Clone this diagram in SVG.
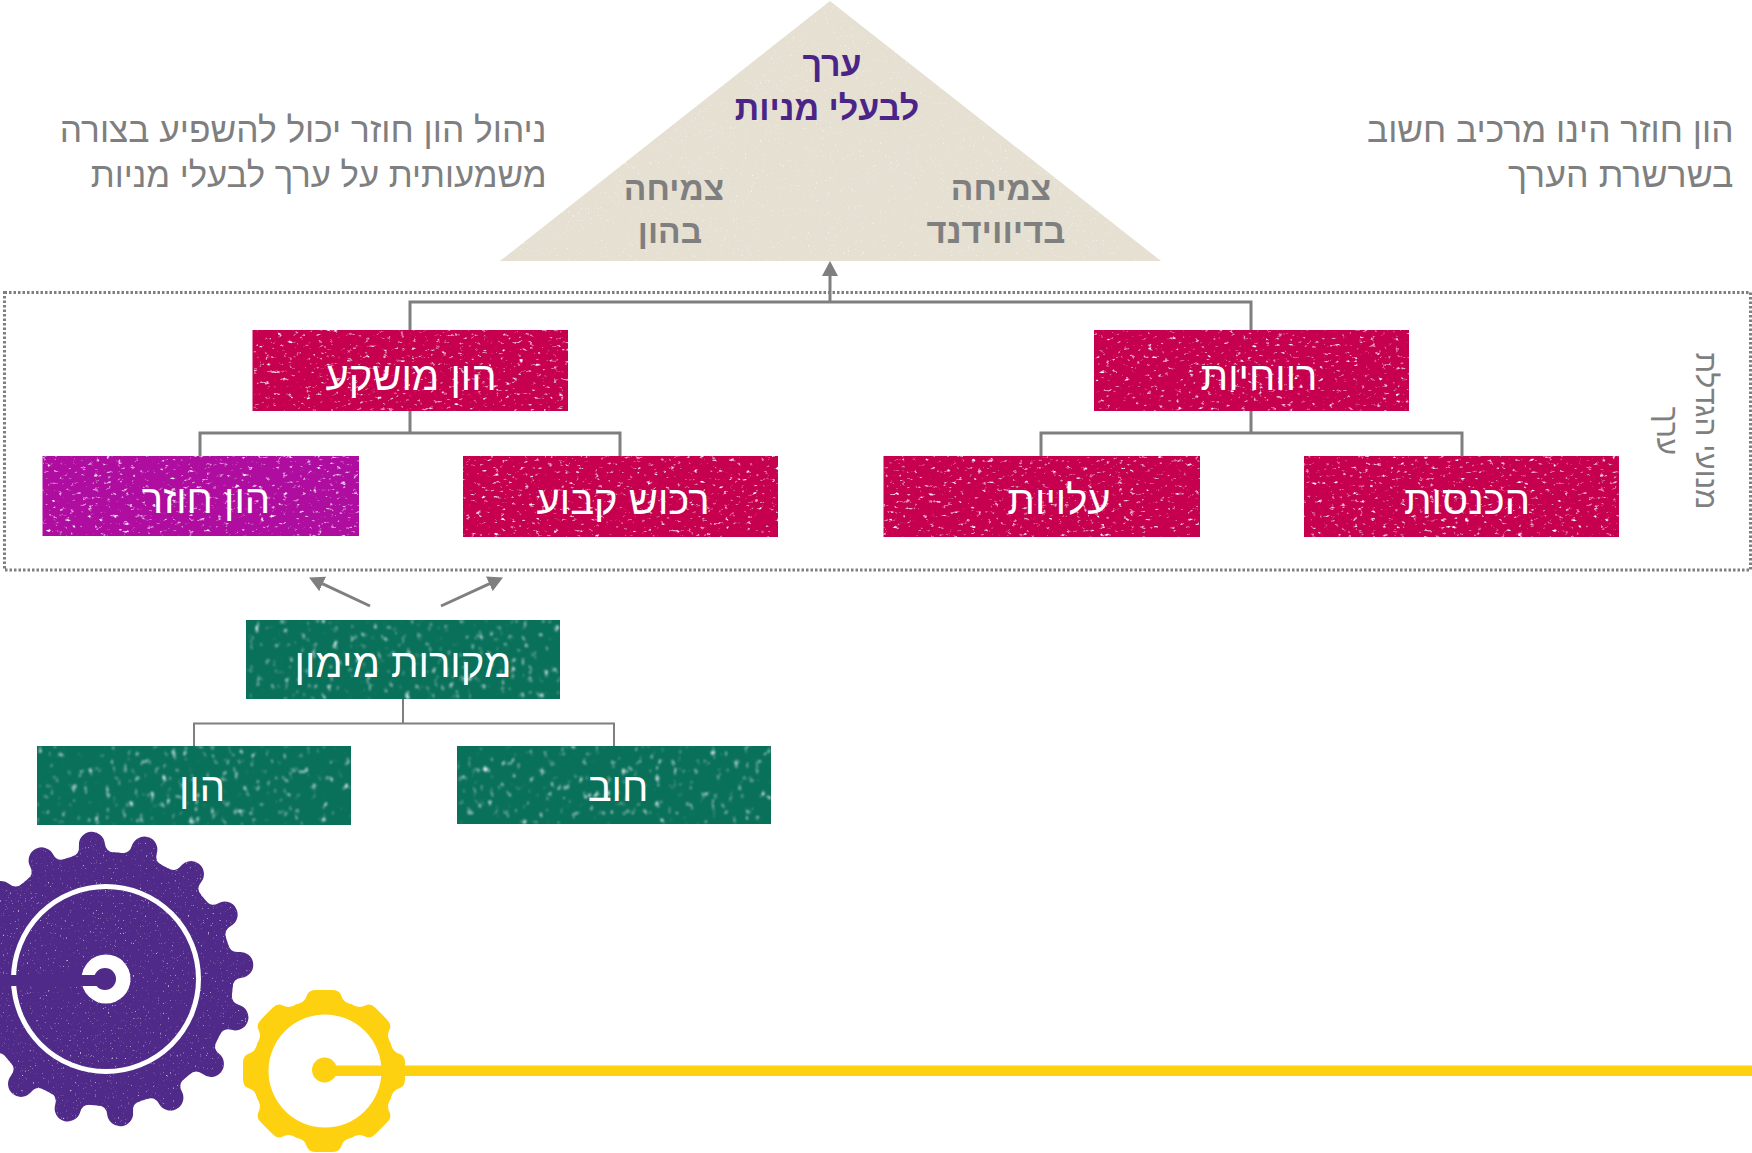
<svg xmlns="http://www.w3.org/2000/svg" xmlns:xlink="http://www.w3.org/1999/xlink" width="1752" height="1153" viewBox="0 0 1752 1153">
<style>
text{font-family:"Liberation Sans","Noto Sans",sans-serif;direction:rtl;unicode-bidi:embed}
.n{font-size:40px;fill:#fff;text-anchor:middle}
.s{font-size:35.300px;fill:#7f7f7f;text-anchor:start}
.b{font-size:33.500px;font-weight:700;text-anchor:middle}
.g{fill:#7f7f7f}
.p{fill:#4a2587;font-size:34px}
.c{stroke:#7f7f7f;fill:none;stroke-width:3}
.t{stroke-width:2}
.red{fill:#c6004f;filter:url(#speck)}
.mag{fill:#ae0da0;filter:url(#speck)}
.grn{fill:#09705a;filter:url(#speckg)}
</style>
<defs>
<filter id="speck" x="0" y="0" width="1" height="1" color-interpolation-filters="sRGB">
<feTurbulence type="fractalNoise" baseFrequency="0.17 0.27" numOctaves="3" seed="7" result="n"/>
<feColorMatrix in="n" type="matrix" values="0 0 0 0 1 0 0 0 0 1 0 0 0 0 1 0 0 0 4.500 -2.900"/>
<feGaussianBlur stdDeviation="0.700"/>
<feComposite in2="SourceAlpha" operator="in" result="sp"/>
<feMerge><feMergeNode in="SourceGraphic"/><feMergeNode in="sp"/></feMerge>
</filter>
<filter id="speckg" x="0" y="0" width="1" height="1" color-interpolation-filters="sRGB">
<feTurbulence type="fractalNoise" baseFrequency="0.18 0.12" numOctaves="3" seed="11" result="n"/>
<feColorMatrix in="n" type="matrix" values="0 0 0 0 1 0 0 0 0 1 0 0 0 0 1 0 0 0 4.500 -2.900"/>
<feGaussianBlur stdDeviation="0.900"/>
<feComposite in2="SourceAlpha" operator="in" result="sp"/>
<feMerge><feMergeNode in="SourceGraphic"/><feMergeNode in="sp"/></feMerge>
</filter>
<filter id="fine" x="-5%" y="-5%" width="110%" height="110%" color-interpolation-filters="sRGB">
<feTurbulence type="fractalNoise" baseFrequency="0.6 0.4" numOctaves="2" seed="3" result="n"/>
<feColorMatrix in="n" type="matrix" values="0 0 0 0 1 0 0 0 0 1 0 0 0 0 1 0 0 0 3.500 -2.400"/>
<feGaussianBlur stdDeviation="0.400"/>
<feComposite in2="SourceAlpha" operator="in" result="sp"/>
<feMerge><feMergeNode in="SourceGraphic"/><feMergeNode in="sp"/></feMerge>
</filter>
<marker id="ah" markerUnits="userSpaceOnUse" markerWidth="16" markerHeight="16" refX="4" refY="8" orient="auto"><path d="M0,0L15,8L0,16z" fill="#7f7f7f"/></marker>
<path id="pt" d="M-22,-125Q-13,-126 -13,-135A13,13 0 0 1 13,-135Q13,-126 22,-125L0,-110z" fill="#4f2a88"/>
<path id="yt" d="M-29,-66Q-19,-68 -17,-76Q-15,-81 -8,-81L8,-81Q15,-81 17,-76Q19,-68 29,-66L0,-60z" fill="#fdd10f"/>
</defs>
<rect width="1752" height="1153" fill="#fff"/>

<g id="pyramid">
<polygon points="830,1 1161,261 500,261" fill="#e6e0d2" filter="url(#fine)"/>
<text class="b p" x="832" y="76">ערך</text>
<text class="b p" x="827" y="120">לבעלי מניות</text>
<text class="b g" x="674" y="200">צמיחה</text>
<text class="b g" x="670" y="243">בהון</text>
<text class="b g" x="1001" y="200">צמיחה</text>
<text class="b g" x="996" y="243" style="font-size:34.500px">בדיווידנד</text>
</g>
<g id="note-left">
<text class="s" x="546.500" y="142">ניהול הון חוזר יכול להשפיע בצורה</text>
<text class="s" x="546.500" y="187" style="font-size:34.700px">משמעותית על ערך לבעלי מניות</text>
</g>
<g id="note-right">
<text class="s" x="1733.500" y="142">הון חוזר הינו מרכיב חשוב</text>
<text class="s" x="1733.500" y="187" style="font-size:35.800px">בשרשרת הערך</text>
</g>
<g id="frame">
<rect x="4.500" y="292.500" width="1746" height="277.500" fill="none" stroke="#7f7f7f" stroke-width="3" stroke-dasharray="2.500 2"/>
<g transform="translate(1696,431) rotate(90)"><text x="0" y="0" font-size="29.800" fill="#7f7f7f" text-anchor="middle">מנועי הגדלת</text></g>
<g transform="translate(1657,431) rotate(90)"><text x="0" y="0" font-size="29.800" fill="#7f7f7f" text-anchor="middle">ערך</text></g>
</g>
<g id="connectors">
<path class="c" d="M410,330V302H1251V330"/>
<path class="c" d="M830,302V272" marker-end="url(#ah)"/>
<path class="c" d="M410,411V433M200,456V433H620V456"/>
<path class="c" d="M1251,411V433M1041,456V433H1462V456"/>
<path class="c" d="M370,606L319,582.200" marker-end="url(#ah)"/>
<path class="c" d="M441,606L493,582.200" marker-end="url(#ah)"/>
<path class="c t" d="M403,699V723.500M194,746V723.500H614V746"/>
</g>
<g id="n-invested"><rect class="red" x="252.500" y="330" width="315.500" height="81"/><text class="n" x="411" y="390">הון מושקע</text></g>
<g id="n-profit"><rect class="red" x="1094" y="330" width="315" height="81"/><text class="n" x="1259" y="390">רווחיות</text></g>
<g id="n-working"><rect class="mag" x="42.500" y="456" width="316.500" height="80"/><text class="n" x="206" y="513">הון חוזר</text></g>
<g id="n-fixed"><rect class="red" x="463" y="456" width="315" height="81"/><text class="n" x="623" y="514">רכוש קבוע</text></g>
<g id="n-costs"><rect class="red" x="883.500" y="456" width="316.500" height="81"/><text class="n" x="1059" y="514">עלויות</text></g>
<g id="n-income"><rect class="red" x="1304" y="456" width="315" height="81"/><text class="n" x="1467" y="514">הכנסות</text></g>
<g id="n-funding"><rect class="grn" x="246" y="620" width="314" height="79"/><text class="n" x="403" y="677">מקורות מימון</text></g>
<g id="n-equity"><rect class="grn" x="37" y="746" width="314" height="79"/><text class="n" x="202" y="801">הון</text></g>
<g id="n-debt"><rect class="grn" x="457" y="746" width="314" height="78"/><text class="n" x="618" y="801">חוב</text></g>

<g id="gear-purple">
<g filter="url(#fine)">
<circle cx="106" cy="979" r="127" fill="#4f2a88"/>
<g transform="translate(106,979)">
<use xlink:href="#pt" href="#pt" transform="rotate(-6)"/><use xlink:href="#pt" href="#pt" transform="rotate(16.500)"/><use xlink:href="#pt" href="#pt" transform="rotate(39)"/><use xlink:href="#pt" href="#pt" transform="rotate(61.500)"/>
<use xlink:href="#pt" href="#pt" transform="rotate(84)"/><use xlink:href="#pt" href="#pt" transform="rotate(106.500)"/><use xlink:href="#pt" href="#pt" transform="rotate(129)"/><use xlink:href="#pt" href="#pt" transform="rotate(151.500)"/>
<use xlink:href="#pt" href="#pt" transform="rotate(174)"/><use xlink:href="#pt" href="#pt" transform="rotate(196.500)"/><use xlink:href="#pt" href="#pt" transform="rotate(219)"/><use xlink:href="#pt" href="#pt" transform="rotate(241.500)"/>
<use xlink:href="#pt" href="#pt" transform="rotate(264)"/><use xlink:href="#pt" href="#pt" transform="rotate(286.500)"/><use xlink:href="#pt" href="#pt" transform="rotate(309)"/><use xlink:href="#pt" href="#pt" transform="rotate(331.500)"/>
</g>
</g>
<circle cx="106" cy="979" r="92.500" fill="none" stroke="#fff" stroke-width="5"/>
<circle cx="106" cy="979" r="24.500" fill="#fff"/>
<rect x="0" y="975" width="98" height="11" fill="#4f2a88"/>
<circle cx="105" cy="979" r="11" fill="#4f2a88"/>
</g>
<g id="gear-yellow">
<circle cx="324" cy="1071" r="72" fill="#fdd10f"/>
<g transform="translate(324,1071)">
<use xlink:href="#yt" href="#yt"/><use xlink:href="#yt" href="#yt" transform="rotate(45)"/><use xlink:href="#yt" href="#yt" transform="rotate(90)"/><use xlink:href="#yt" href="#yt" transform="rotate(135)"/>
<use xlink:href="#yt" href="#yt" transform="rotate(180)"/><use xlink:href="#yt" href="#yt" transform="rotate(225)"/><use xlink:href="#yt" href="#yt" transform="rotate(270)"/><use xlink:href="#yt" href="#yt" transform="rotate(315)"/>
</g>
<circle cx="325" cy="1071" r="56.500" fill="#fff"/>
<circle cx="324.500" cy="1070" r="12.500" fill="#fdd10f"/>
<rect x="330" y="1065.500" width="1422" height="10.500" fill="#fdd10f"/>
</g>
</svg>
